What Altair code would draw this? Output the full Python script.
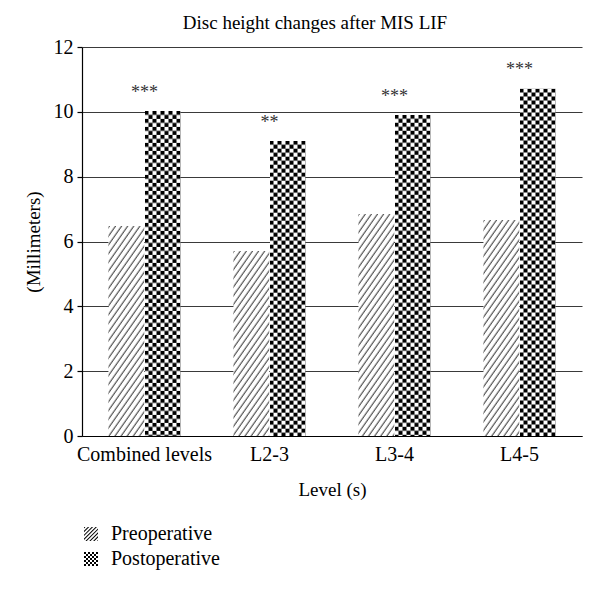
import altair as alt
import pandas as pd
from urllib.parse import quote

# ---------------- data ----------------
levels = ["Combined levels", "L2-3", "L3-4", "L4-5"]
series = ["Preoperative", "Postoperative"]
pre_values = [6.48, 5.72, 6.86, 6.67]
post_values = [10.03, 9.11, 9.91, 10.72]
significance = ["***", "**", "***", "***"]

FONT = "Liberation Serif"
LABEL_FS = 20
TITLE_FS = 19

# ---------------- fill patterns (style only) ----------------
hatch_svg = (
    '<svg xmlns="http://www.w3.org/2000/svg">'
    '<defs><pattern id="h" width="5" height="5" patternUnits="userSpaceOnUse" '
    'patternTransform="rotate(35)">'
    '<rect width="5" height="5" fill="white"/>'
    '<line x1="1" y1="-1" x2="1" y2="6" stroke="black" stroke-width="0.8"/>'
    '</pattern></defs>'
    '<rect width="100%" height="100%" fill="url(#h)"/></svg>'
)
checker_svg = (
    '<svg xmlns="http://www.w3.org/2000/svg">'
    '<defs><pattern id="c" width="8" height="8" patternUnits="userSpaceOnUse">'
    '<rect width="8" height="8" fill="white"/>'
    '<rect width="4" height="4" fill="black"/>'
    '<rect x="4" y="4" width="4" height="4" fill="black"/>'
    '</pattern></defs>'
    '<rect width="100%" height="100%" fill="url(#c)"/></svg>'
)
pattern_url = {
    "Preoperative": "data:image/svg+xml;charset=utf-8," + quote(hatch_svg),
    "Postoperative": "data:image/svg+xml;charset=utf-8," + quote(checker_svg),
}


def clip(poly, a, b, c):
    """keep part of polygon where a*x + b*y <= c"""
    out = []
    n = len(poly)
    for i in range(n):
        p, q = poly[i], poly[(i + 1) % n]
        fp = a * p[0] + b * p[1] - c
        fq = a * q[0] + b * q[1] - c
        if fp <= 0:
            out.append(p)
        if fp * fq < 0:
            t = fp / (fp - fq)
            out.append((p[0] + t * (q[0] - p[0]), p[1] + t * (q[1] - p[1])))
    return out


def hatch_symbol():
    square = [(-1, -1), (1, -1), (1, 1), (-1, 1)]
    parts = []
    w = 0.2
    c = -2.0
    while c < 2.0:
        poly = clip(square, -1, -1, -c)      # x + y >= c
        poly = clip(poly, 1, 1, c + w)       # x + y <= c + w
        if len(poly) >= 3:
            parts.append("M" + "L".join(f"{x:.3f},{y:.3f}" for x, y in poly) + "Z")
        c += 0.55
    return "".join(parts)


def checker_symbol():
    n = 7
    s = 2.0 / n
    parts = []
    for i in range(n):
        for j in range(n):
            if (i + j) % 2 == 0:
                x0, y0 = -1 + i * s, -1 + j * s
                parts.append(f"M{x0:.3f},{y0:.3f}h{s:.3f}v{s:.3f}h{-s:.3f}Z")
    return "".join(parts)


rows = []
for lv, pv, qv in zip(levels, pre_values, post_values):
    rows.append({"level": lv, "series": series[0], "value": pv, "img": pattern_url[series[0]]})
    rows.append({"level": lv, "series": series[1], "value": qv, "img": pattern_url[series[1]]})
df = pd.DataFrame(rows)
stars_df = pd.DataFrame({"level": levels, "value": post_values, "stars": significance})

x_enc = alt.X(
    "level:N",
    sort=levels,
    scale=alt.Scale(paddingInner=0.42, paddingOuter=0.21),
    axis=alt.Axis(title="Level (s)", labelAngle=0, ticks=False, tickSize=0,
                  labelPadding=8, titlePadding=16, domainColor="black",
                  domainWidth=1.2),
)
y_enc = alt.Y(
    "value:Q",
    scale=alt.Scale(domain=[0, 12], nice=False),
    axis=alt.Axis(title="(Millimeters)", values=[0, 2, 4, 6, 8, 10, 12],
                  grid=True, gridColor="#3a3a3a", gridWidth=1.2,
                  tickColor="black", tickSize=5, tickWidth=1.2,
                  domainColor="black", domainWidth=1.2,
                  labelPadding=4, titlePadding=10),
)
xoff = alt.XOffset("series:N", sort=series)

bars = alt.Chart(df).mark_image(aspect=False).encode(
    x=x_enc, xOffset=xoff, y=y_enc, y2=alt.datum(0), url="img:N"
)

legend_layer = alt.Chart(df).mark_point(filled=True, color="black", opacity=0).encode(
    x=alt.X("level:N", sort=levels),
    xOffset=xoff,
    y="value:Q",
    shape=alt.Shape(
        "series:N",
        sort=series,
        scale=alt.Scale(domain=series, range=[hatch_symbol(), checker_symbol()]),
        legend=alt.Legend(
            title=None, orient="none", legendX=-1, legendY=477, direction="vertical",
            symbolOpacity=1, symbolSize=196, symbolFillColor="black",
            symbolStrokeWidth=0, labelFont=FONT, labelFontSize=LABEL_FS,
            labelColor="black", labelOffset=10, rowPadding=5, padding=0,
        ),
    ),
)

stars = alt.Chart(stars_df).mark_text(
    font=FONT, fontSize=18, color="#333333", baseline="alphabetic", dy=-13
).encode(x=alt.X("level:N", sort=levels), y="value:Q", text="stars:N")

chart = (
    alt.layer(bars, legend_layer, stars)
    .properties(
        width=500,
        height=389,
        padding={"left": 74, "top": 39, "right": 10, "bottom": 140},
        autosize=alt.AutoSizeParams(type="none"),
        title=alt.TitleParams("Disc height changes after MIS LIF", font=FONT,
                              fontSize=TITLE_FS, fontWeight="normal", color="black",
                              offset=4, dx=-17),
    )
    .configure_view(stroke=None)
    .configure_axis(labelFont=FONT, labelFontSize=LABEL_FS, labelColor="black",
                    titleFont=FONT, titleFontSize=TITLE_FS, titleColor="black",
                    titleFontWeight="normal")
)

chart.save("out.html", embed_options={"renderer": "svg", "actions": False})
